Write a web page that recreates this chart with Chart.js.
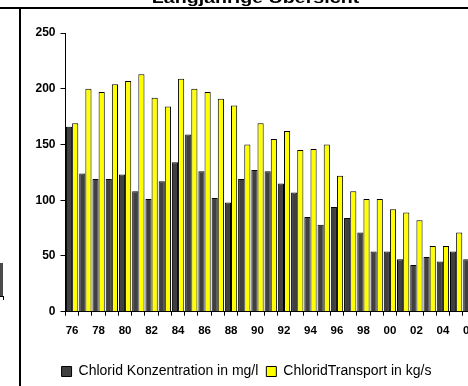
<!DOCTYPE html>
<html>
<head>
<meta charset="utf-8">
<script src="https://cdn.jsdelivr.net/npm/chart.js@4/dist/chart.umd.min.js"></script>
<style>
  html, body { margin:0; padding:0; background:#fff; overflow:hidden; width:468px; height:386px; }
  #wrap { position:relative; width:468px; height:386px; overflow:hidden; }
  #c { position:absolute; left:0; top:0; }
  .ln { position:absolute; background:#000; }
  #title { position:absolute; left:0; top:-10.5px; width:511px; text-align:center;
           font:bold 15px "Liberation Sans", Arial, sans-serif; line-height:15px; color:#000;
           transform:scaleX(1.31); transform-origin:255.5px 50%; white-space:nowrap; }
</style>
</head>
<body>
<div id="wrap">
  <canvas id="c" width="490" height="389" style="width:490px;height:389px"></canvas>
  <div id="title">Langjährige Übersicht</div>
  <div class="ln" style="left:0;top:7px;width:468px;height:2px"></div>
  <div class="ln" style="left:19px;top:7px;width:2px;height:379px"></div>
  <div style="position:absolute;left:0;top:263px;width:3px;height:33px;background:#4a4a4a"></div>
  <div class="ln" style="left:0;top:296px;width:4px;height:1px"></div>
  <div class="ln" style="left:3px;top:296px;width:1px;height:4px"></div>
</div>
<script>
const years = ['76','77','78','79','80','81','82','83','84','85','86','87','88','89','90','91','92','93','94','95','96','97','98','99','00','01','02','03','04','05','06'];
const konzentration = [166,124,119,119,123,108,101,117,134,159,126,102,98,119,127,126,115,107,85,78,94,84,71,54,54,47,42,49,45,54,47];
const transport = [169,200,197,204,207,213,192,184,209,200,197,191,185,150,169,155,162,145,146,150,122,108,101,101,92,89,82,59,59,71,60];
const yTicks = [0,50,100,150,200,250];
const seriesNames = ['Chlorid Konzentration in mg/l', 'ChloridTransport in kg/s'];

const FONT = '"Liberation Sans", Arial, sans-serif';

new Chart(document.getElementById('c'), {
  type: 'bar',
  data: {
    labels: years,
    datasets: [
      { label: seriesNames[0], data: konzentration, backgroundColor: '#404040', borderColor: '#000', borderWidth: 1 },
      { label: seriesNames[1], data: transport, backgroundColor: '#ffff00', borderColor: '#000', borderWidth: 1 }
    ]
  },
  options: {
    responsive: false,
    animation: false,
    devicePixelRatio: 1,
    layout: { padding: { top: 33, left: 17, right: 14, bottom: 0.5 } },
    datasets: { bar: { categoryPercentage: 0.93, barPercentage: 1.0 } },
    plugins: {
      title: { display: false },
      tooltip: { enabled: false },
      legend: {
        position: 'bottom',
        labels: {
          color: '#000',
          font: { family: FONT, size: 14 },
          boxWidth: 10, boxHeight: 10, padding: 8
        }
      }
    },
    scales: {
      x: {
        offset: true,
        grid: { offset: true, drawOnChartArea: false, drawTicks: true, tickLength: 4, color: '#000' },
        border: { color: '#000', width: 1 },
        ticks: {
          autoSkip: false, maxRotation: 0, minRotation: 0, color: '#000', padding: 8,
          font: { family: FONT, size: 11.5, weight: 'bold' },
          callback: (v, i) => (i % 2 === 0 ? years[i] : '')
        },
        afterFit: s => { s.height = 44.8; }
      },
      y: {
        min: yTicks[0], max: yTicks[yTicks.length - 1],
        afterBuildTicks: s => { s.ticks = yTicks.map(v => ({ value: v })); },
        grid: { drawOnChartArea: false, drawTicks: true, tickLength: 5, color: '#000' },
        border: { color: '#000', width: 1 },
        ticks: { color: '#000', padding: 5, font: { family: FONT, size: 12, weight: 'bold' } },
        afterFit: s => { s.width = 48.5; }
      }
    }
  }
});
</script>
</body>
</html>
